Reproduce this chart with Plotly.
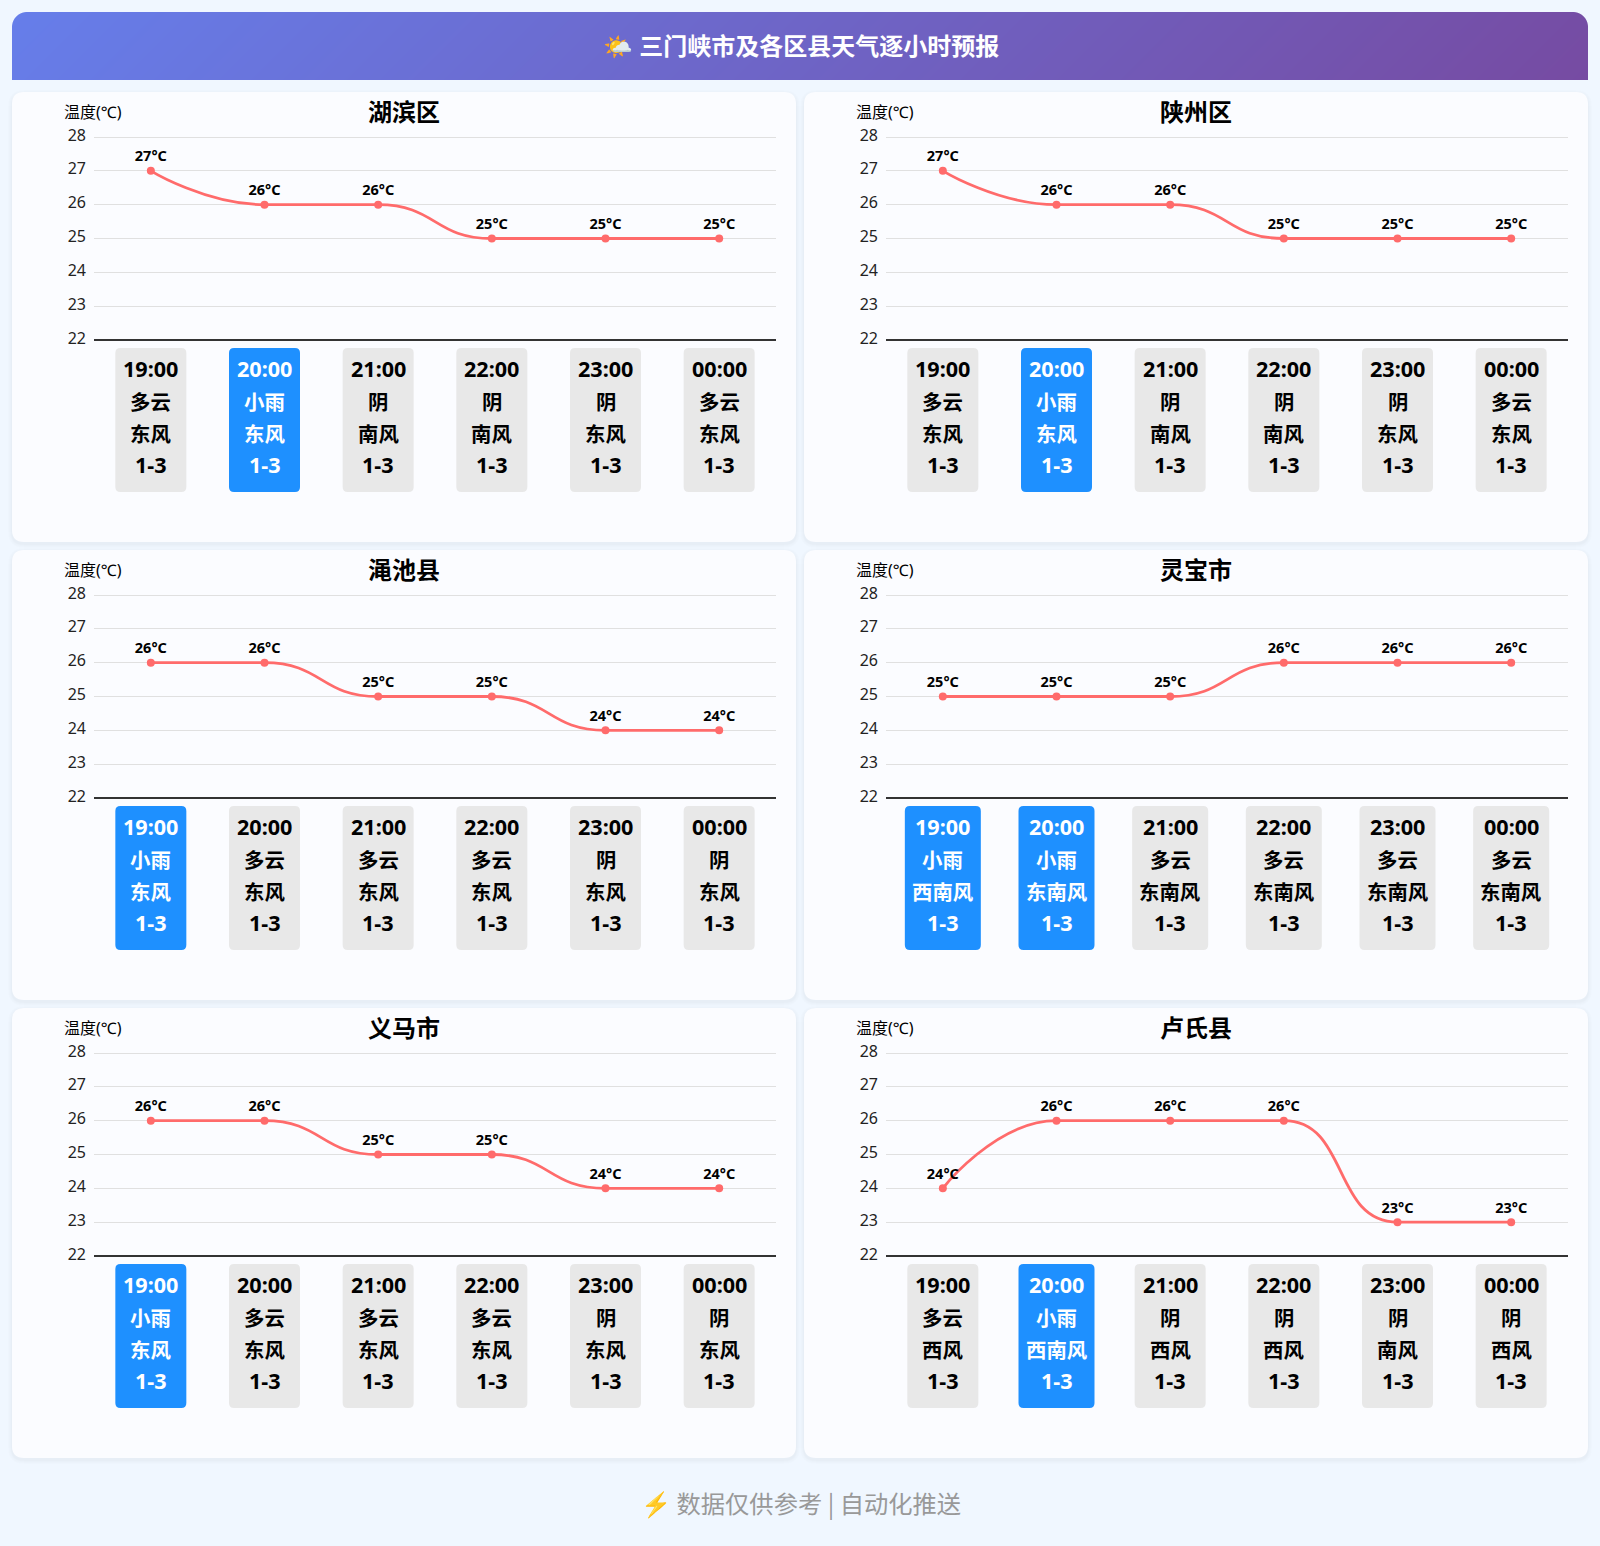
import base64, struct, zlib, math
import numpy as np
import plotly.graph_objects as go

W, H = 1600, 1546
PAGE_TITLE = "🌤️ 三门峡市及各区县天气逐小时预报"
FOOTER = "⚡ 数据仅供参考 | 自动化推送"
Y_NAME = "温度(℃)"
times = ["19:00", "20:00", "21:00", "22:00", "23:00", "00:00"]
level = "1-3"

cities = ["湖滨区", "陕州区", "渑池县", "灵宝市", "义马市", "卢氏县"]
temp_hubin = [27, 26, 26, 25, 25, 25]
temp_shanzhou = [27, 26, 26, 25, 25, 25]
temp_mianchi = [26, 26, 25, 25, 24, 24]
temp_lingbao = [25, 25, 25, 26, 26, 26]
temp_yima = [26, 26, 25, 25, 24, 24]
temp_lushi = [24, 26, 26, 26, 23, 23]
weather_hubin = ["多云", "小雨", "阴", "阴", "阴", "多云"]
weather_shanzhou = ["多云", "小雨", "阴", "阴", "阴", "多云"]
weather_mianchi = ["小雨", "多云", "多云", "多云", "阴", "阴"]
weather_lingbao = ["小雨", "小雨", "多云", "多云", "多云", "多云"]
weather_yima = ["小雨", "多云", "多云", "多云", "阴", "阴"]
weather_lushi = ["多云", "小雨", "阴", "阴", "阴", "阴"]
wind_hubin = ["东风", "东风", "南风", "南风", "东风", "东风"]
wind_shanzhou = ["东风", "东风", "南风", "南风", "东风", "东风"]
wind_mianchi = ["东风", "东风", "东风", "东风", "东风", "东风"]
wind_lingbao = ["西南风", "东南风", "东南风", "东南风", "东南风", "东南风"]
wind_yima = ["东风", "东风", "东风", "东风", "东风", "东风"]
wind_lushi = ["西风", "西南风", "西风", "西风", "南风", "西风"]

temps = [temp_hubin, temp_shanzhou, temp_mianchi, temp_lingbao, temp_yima, temp_lushi]
weathers = [weather_hubin, weather_shanzhou, weather_mianchi, weather_lingbao, weather_yima, weather_lushi]
winds = [wind_hubin, wind_shanzhou, wind_mianchi, wind_lingbao, wind_yima, wind_lushi]

FONT = "'Noto Sans', 'Noto Sans CJK SC', sans-serif"
FOOT_FONT = "'Noto Sans CJK SC', sans-serif"
LINE = "#ff6b6b"
PAGE = "#f0f7ff"
CARD = "#fbfcff"
PLOT_W, PLOT_H = 682, 203
SX, SY = PLOT_W / 6, PLOT_H / 6
PAD = 3  # px of head-room around the y range so the end gridlines are kept


def fx(px):
    return px / W


def fy(py):
    return 1 - py / H


def rr(x0, y0, x1, y1, r):
    p = lambda x, y: f"{fx(x):.6f},{fy(y):.6f}"
    return (f"M{p(x0 + r, y0)} L{p(x1 - r, y0)} Q{p(x1, y0)} {p(x1, y0 + r)} "
            f"L{p(x1, y1 - r)} Q{p(x1, y1)} {p(x1 - r, y1)} L{p(x0 + r, y1)} "
            f"Q{p(x0, y1)} {p(x0, y1 - r)} L{p(x0, y0 + r)} Q{p(x0, y0)} {p(x0 + r, y0)} Z")


def header_png(w, h, radius):
    c0, c1 = np.array([0x66, 0x7e, 0xea]), np.array([0x76, 0x4b, 0xa2])
    yy, xx = np.mgrid[0:h, 0:w] + 0.5
    length = (w + h) * math.sqrt(0.5)
    t = ((xx - w / 2) + (yy - h / 2)) * math.sqrt(0.5) / length + 0.5
    rgb = c0[None, None, :] + (c1 - c0)[None, None, :] * t[:, :, None]
    dx = np.maximum(np.maximum(radius - xx, xx - (w - radius)), 0)
    dy = np.maximum(radius - yy, 0)
    alpha = np.clip(radius + 0.5 - np.hypot(dx, dy), 0, 1) * 255
    arr = np.dstack([rgb, alpha]).round().astype(np.uint8)
    raw = b"".join(b"\x00" + arr[i].tobytes() for i in range(h))

    def chunk(tag, data):
        return struct.pack(">I", len(data)) + tag + data + struct.pack(">I", zlib.crc32(tag + data))

    png = (b"\x89PNG\r\n\x1a\n" + chunk(b"IHDR", struct.pack(">IIBBBBB", w, h, 8, 6, 0, 0, 0))
           + chunk(b"IDAT", zlib.compress(raw)) + chunk(b"IEND", b""))
    return "data:image/png;base64," + base64.b64encode(png).decode()


def curve_path(ys, smooth=0.5):
    """Bezier through the points, control points kept within neighbouring values."""
    pts = [(i * SX, v * SY) for i, v in enumerate(ys)]
    n = len(pts)
    clamp = lambda v, a, b: max(min(v, max(a, b)), min(a, b))
    cp = pts[0]
    out = f"M{0},{ys[0]}"
    for k in range(1, n):
        x, y = pts[k]
        px, py = pts[k - 1]
        if k < n - 1:
            nx, ny = pts[k + 1]
            dx, dy = nx - px, ny - py
            lp = math.hypot(x - px, y - py)
            ln = math.hypot(nx - x, ny - y)
            ratio = ln / (ln + lp)
            c1x = clamp(x + dx * smooth * ratio, nx, x)
            c1y = clamp(y + dy * smooth * ratio, ny, y)
            dx, dy = c1x - x, c1y - y
            c0x = clamp(x - dx * lp / ln, px, x)
            c0y = clamp(y - dy * lp / ln, py, y)
            dx, dy = x - c0x, y - c0y
            c1x, c1y = x + dx * ln / lp, y + dy * ln / lp
        else:
            c0x, c0y, c1x, c1y = x, y, x, y
        out += (f" C{cp[0] / SX:.4f},{cp[1] / SY:.4f} {c0x / SX:.4f},{c0y / SY:.4f} "
                f"{x / SX:.4f},{y / SY:.4f}")
        cp = (c1x, c1y)
    return out


fig = go.Figure()
shapes, annotations = [], []
layout_axes = {}


def note(text, x, y, size, color="#000000", bold=False, family=FONT):
    annotations.append(dict(
        text=text, x=fx(x), y=fy(y), xref="paper", yref="paper", showarrow=False,
        xanchor="center", yanchor="middle",
        font=dict(family=family, size=size, color=color, weight=700 if bold else 400)))


for idx, city in enumerate(cities):
    col, row = idx % 2, idx // 2
    ox, oy = col * 792, row * 458
    cx0, cy0, cx1, cy1 = 12 + ox, 92 + oy, 796 + ox, 542 + oy
    for grow, op in ((4, 0.006), (3, 0.007), (2, 0.008), (1, 0.01)):
        shapes.append(dict(type="path", path=rr(cx0 - grow, cy0 - grow + 2, cx1 + grow, cy1 + grow + 2, 12 + grow),
                           xref="paper", yref="paper", fillcolor=f"rgba(0,0,0,{op})", line_width=0, layer="below"))
    shapes.append(dict(type="path", path=rr(cx0, cy0, cx1, cy1, 12), xref="paper", yref="paper",
                       fillcolor=CARD, line_width=0, layer="below"))

    px0, py0 = 94 + ox, 137 + oy
    n = idx + 1
    xname, yname = f"xaxis{n}", f"yaxis{n}"
    xr, yr = ("x", "y") if n == 1 else (f"x{n}", f"y{n}")
    layout_axes[xname] = dict(domain=[fx(px0), fx(px0 + PLOT_W)], range=[-0.5, 5.5], anchor=yr,
                              showgrid=False, zeroline=False, showticklabels=False, ticks="",
                              showline=False, fixedrange=True)
    layout_axes[yname] = dict(domain=[fy(py0 + PLOT_H + PAD), fy(py0 - PAD)],
                              range=[22 - PAD / SY, 28 + PAD / SY], anchor=xr, dtick=1,
                              tick0=22, showgrid=True, gridcolor="#e0e0e0", gridwidth=1, zeroline=False,
                              showline=False, ticks="", ticklabelstandoff=7, ticklabelshift=-2,
                              tickfont=dict(family=FONT, size=16, color="#222222"), fixedrange=True)

    shapes.append(dict(type="line", xref=xr, yref=yr, x0=-0.5, x1=5.5, y0=22, y1=22,
                       line=dict(color="#333333", width=2), layer="between"))
    shapes.append(dict(type="path", path=curve_path(temps[idx]), xref=xr, yref=yr,
                       line=dict(color=LINE, width=2.8), layer="between"))

    fig.add_trace(go.Scatter(
        x=list(range(len(times))), y=temps[idx], customdata=times, name=city, xaxis=xr, yaxis=yr,
        mode="markers+text", marker=dict(color=LINE, size=8), showlegend=False, cliponaxis=False,
        texttemplate="%{y}°C", textposition="top center",
        textfont=dict(family=FONT, size=14.5, color="#000000", weight=700), hoverinfo="skip"))

    note(city, 404 + ox, 111.2 + oy, 24, bold=True)
    note(Y_NAME, 93 + ox, 112 + oy, 16)

    for i, t in enumerate(times):
        center = px0 + (i + 0.5) * SX
        hot = "雨" in weathers[idx][i]
        bw = 76 if len(winds[idx][i]) >= 3 else 71
        shapes.append(dict(type="path", path=rr(center - bw / 2, 348 + oy, center + bw / 2, 492 + oy, 5),
                           xref="paper", yref="paper", fillcolor="#1e90ff" if hot else "#e8e8e8",
                           line_width=0, layer="below"))
        color = "#ffffff" if hot else "#000000"
        rows = ((t, 368.6, 21.6), (weathers[idx][i], 402, 20.4), (winds[idx][i], 433.8, 20.4), (level, 464.6, 21.6))
        for text, ty, size in rows:
            note(text, center, ty + oy, size, color=color, bold=True)

note(PAGE_TITLE, 801, 46, 24, color="#ffffff", bold=True)
note(FOOTER, 800.5, 1502, 24.3, color="#999999", family=FOOT_FONT)

fig.update_layout(
    width=W, height=H, margin=dict(l=0, r=0, t=0, b=0, autoexpand=False), autosize=False,
    paper_bgcolor=PAGE, plot_bgcolor="rgba(0,0,0,0)", showlegend=False,
    shapes=shapes, annotations=annotations,
    images=[dict(source=header_png(1576, 68, 15), xref="paper", yref="paper", x=fx(12), y=fy(12),
                 sizex=1576 / W, sizey=68 / H, xanchor="left", yanchor="top", sizing="stretch", layer="below")],
    **layout_axes)

fig.write_html("out.html", config=dict(displayModeBar=False),
               post_script="document.body.style.margin='0';document.body.style.background='#f0f7ff';")
